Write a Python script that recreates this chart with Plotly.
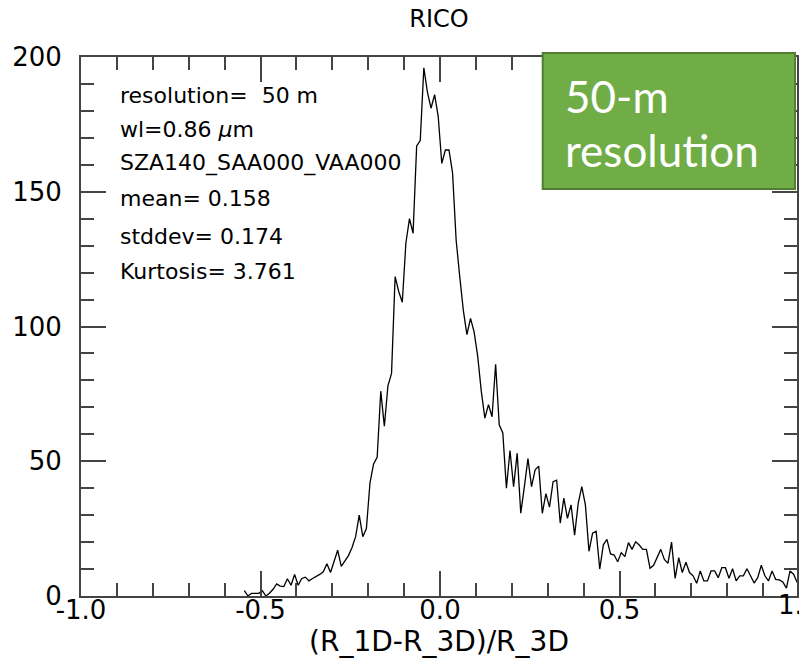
import plotly.graph_objects as go

# ---- data ----
bin_start = -0.545
bin_width = 0.01
counts = [
    2, 0, 1, 1, 1, 2, 0, 1, 2.5, 4.5,
    3.7, 3.5, 6.4, 4, 8, 4, 6.5, 7, 5.6, 6.5,
    7.2, 8, 9, 12, 8.7, 13, 17, 11, 13, 15,
    18, 22, 30, 22, 25, 42, 49, 51.5, 76, 63,
    78, 82.6, 118.5, 113, 109, 131, 140, 134.6, 167, 169,
    196, 187, 181, 186, 178, 160.5, 165.5, 165.5, 157, 132,
    118.5, 106, 97, 103, 98, 89, 76, 66, 71, 66.5,
    86, 63.5, 60.5, 40, 54, 40.6, 53, 30.7, 40.6, 51,
    40.6, 46.8, 48.2, 30.7, 38, 33, 42.4, 43, 27, 36.3,
    28.8, 33.8, 22.6, 34.4, 40.6, 33.8, 16.6, 23.3, 24, 10,
    19, 21, 15.6, 15.2, 12.7, 16.1, 14.6, 19.8, 17.3, 20.1,
    18.9, 17.3, 17.3, 10.3, 11.4, 14.6, 17.3, 13.6, 12.1, 20,
    6.5, 14.2, 8.7, 12.5, 8.7, 7.5, 4.7, 9.3, 5.6, 5.6,
    9.3, 9.3, 6.8, 10.5, 10.5, 6.6, 10.1, 5.6, 7.5, 7.5,
    10.1, 7.5, 4.8, 6.8, 11.4, 7.5, 5.6, 9.3, 6.2, 6,
    5.2, 2.9, 9.3, 8.1, 5,
]
bin_centers = [round(bin_start + i * bin_width, 3) for i in range(len(counts))]

stats_lines = [
    "resolution=  50 m",
    "wl=0.86 <i>μ</i>m",
    "SZA140_SAA000_VAA000",
    "mean= 0.158",
    "stddev= 0.174",
    "Kurtosis= 3.761",
]
x_ticks = [-1.0, -0.5, 0.0, 0.5]
x_ticktext = ["-1.0", "-0.5", "0.0", "0.5"]
title_text = "RICO"
x_title = "(R_1D-R_3D)/R_3D"
box_lines = ["50-m", "resolution"]

# ---- layout geometry (pixels) ----
W, H = 799, 661
L, R, T, B = 81, 0, 57, 65
pw, ph = W - L - R, H - T - B


def px2paper_x(px):
    return (px - L) / pw


def px2paper_y(py):
    return (H - B - py) / ph


FONT = "DejaVu Sans"
AX = "#444444"

fig = go.Figure()
fig.add_trace(go.Scatter(
    x=bin_centers, y=counts, mode="lines",
    line=dict(color="black", width=1.3), showlegend=False,
    hoverinfo="skip",
))

fig.update_layout(
    width=W, height=H,
    margin=dict(l=L, r=R, t=T, b=B, pad=0),
    paper_bgcolor="white", plot_bgcolor="white",
    font=dict(family=FONT, color="black", size=26),
    title=dict(text=title_text, x=px2paper_x(440), xref="paper",
               y=1 - 19 / H, yref="container", xanchor="center", yanchor="middle",
               font=dict(family=FONT, size=24, color="black")),
    showlegend=False,
)

fig.update_xaxes(
    range=[-1.0, -1.0 + pw / 360.0],
    tickmode="array", tickvals=x_ticks, ticktext=x_ticktext,
    ticks="inside", ticklen=25, tickwidth=1.5, tickcolor=AX,
    minor=dict(dtick=0.1, tick0=-1.0, ticks="inside", ticklen=13,
               tickwidth=1.5, tickcolor=AX, showgrid=False),
    showline=True, linecolor=AX, linewidth=2, mirror="ticks",
    showgrid=False, zeroline=False,
    tickfont=dict(family=FONT, size=26, color="black"),
    ticklabelstandoff=-10,
    title=dict(text=x_title, font=dict(family=FONT, size=28, color="black"), standoff=0),
)
fig.update_yaxes(
    range=[0, 200], tickmode="linear", tick0=0, dtick=50,
    ticks="inside", ticklen=25, tickwidth=1.5, tickcolor=AX,
    minor=dict(dtick=10, tick0=0, ticks="inside", ticklen=13,
               tickwidth=1.5, tickcolor=AX, showgrid=False),
    showline=True, linecolor=AX, linewidth=2, mirror="ticks",
    showgrid=False, zeroline=False,
    tickfont=dict(family=FONT, size=26, color="black"),
    ticklabelstandoff=12,
)

# "1.0" tick label, partially cut at the right edge like the reference
fig.add_annotation(text="1.0", xref="paper", yref="paper",
                   x=px2paper_x(801), y=0, xanchor="center", yanchor="top",
                   yshift=8, showarrow=False,
                   font=dict(family=FONT, size=26, color="black"))

# statistics text
stats_y = [95, 129, 163, 198, 236, 271]
for line, py in zip(stats_lines, stats_y):
    fig.add_annotation(text=line, xref="paper", yref="paper",
                       x=px2paper_x(118), y=px2paper_y(py),
                       xanchor="left", yanchor="middle", showarrow=False,
                       font=dict(family=FONT, size=22, color="black"))

# green label box
fig.add_shape(type="rect", xref="paper", yref="paper",
              x0=px2paper_x(544), x1=px2paper_x(797),
              y0=px2paper_y(189), y1=px2paper_y(53),
              fillcolor="#70AD47", line=dict(color="#507E32", width=2),
              layer="above")
for line, py in zip(box_lines, [96, 150]):
    fig.add_annotation(text=line, xref="paper", yref="paper",
                       x=px2paper_x(564), y=px2paper_y(py),
                       xanchor="left", yanchor="middle", showarrow=False,
                       font=dict(family="Lato", size=44, color="white"))

fig.write_html("out.html")
